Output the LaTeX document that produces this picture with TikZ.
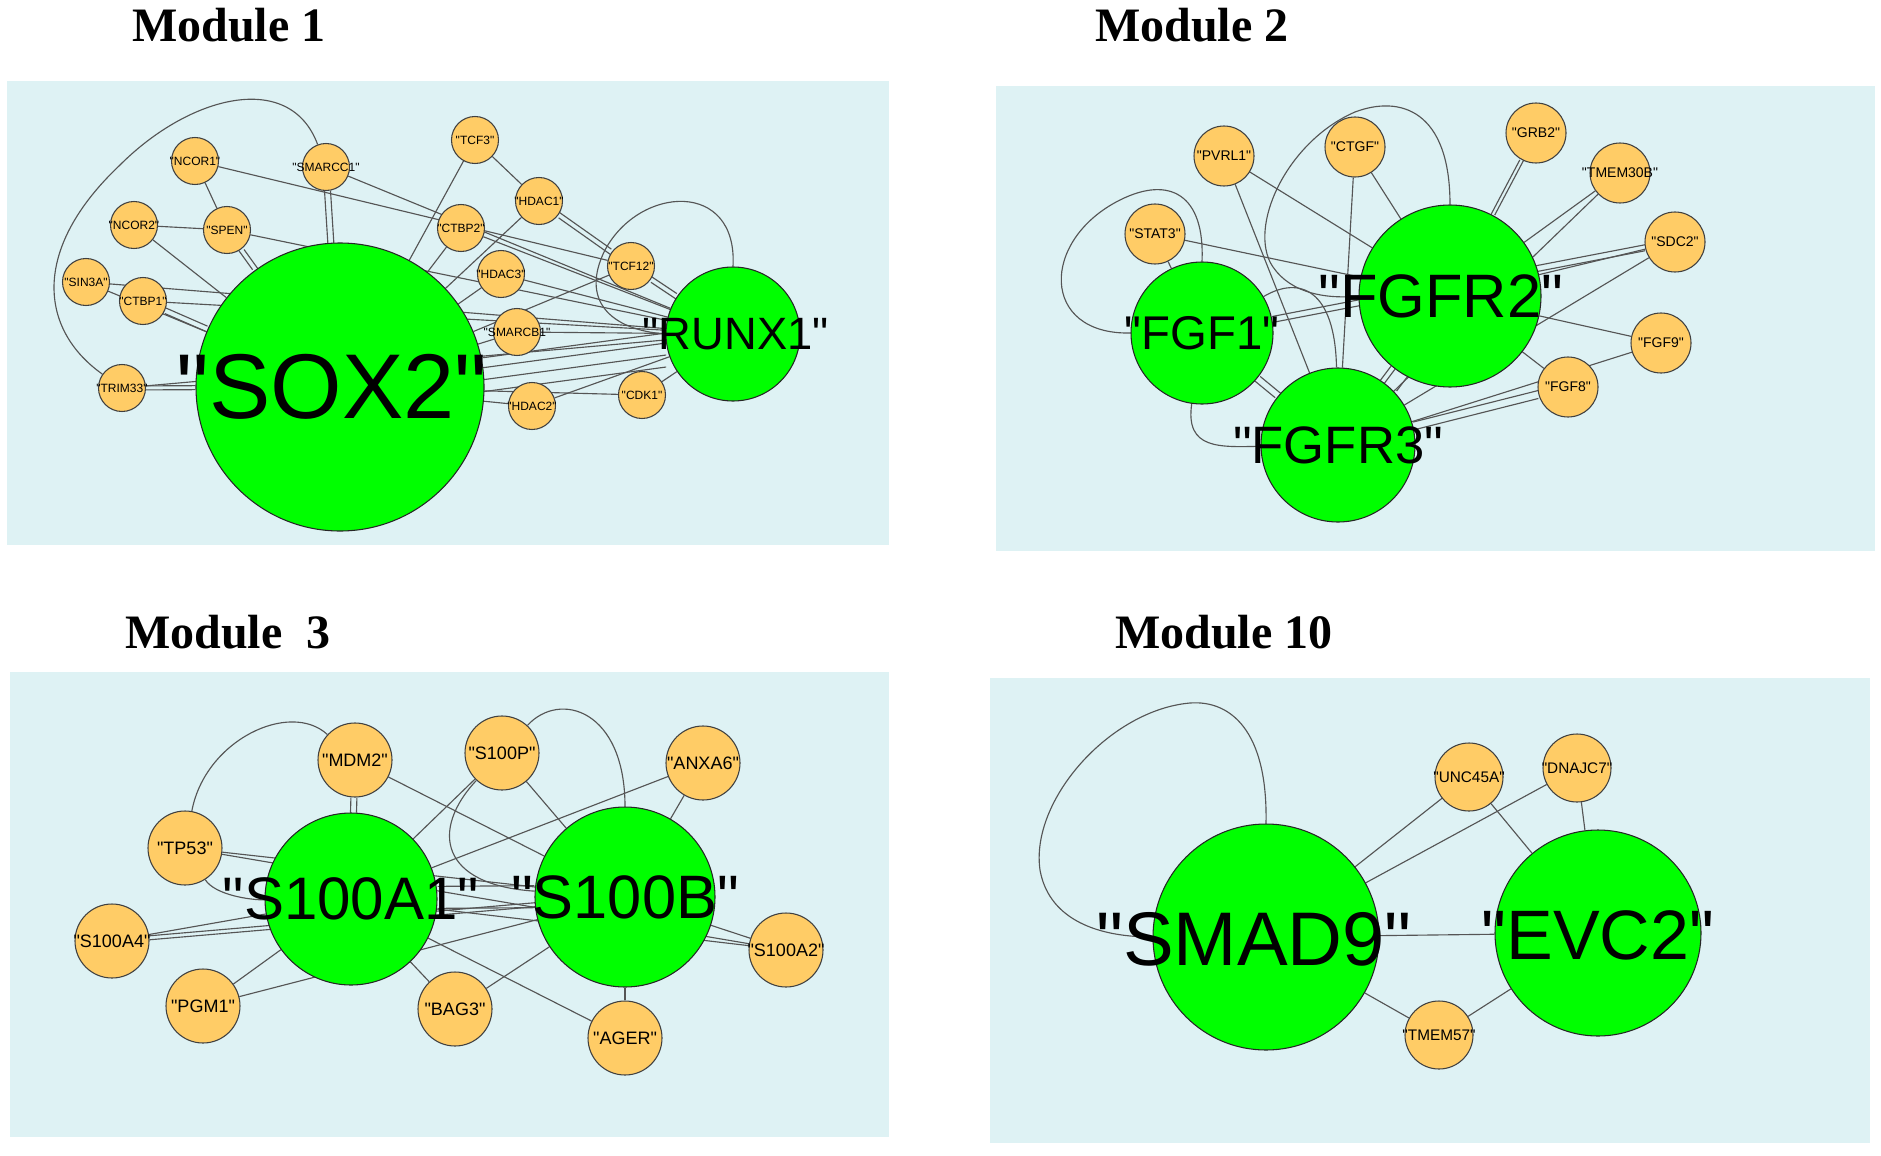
\documentclass[tikz,border=0pt]{standalone}
\usepackage{fontspec}
\setmainfont{Liberation Serif}
\newfontfamily\arialf{Liberation Sans}
\newcommand{\gfont}[1]{\arialf\fontsize{#1}{#1}\selectfont}
\definecolor{panelbg}{RGB}{222,242,244}
\definecolor{hubgreen}{RGB}{0,255,0}
\definecolor{geneorange}{RGB}{255,204,102}
\definecolor{edgegray}{RGB}{85,85,85}
\pgfdeclarelayer{bg}
\pgfdeclarelayer{edges}
\pgfsetlayers{bg,edges,main}
\tikzset{
  edge/.style={draw=edgegray, line width=0.85pt},
  sh/.style={transform canvas={shift={#1}}},
  hub/.style={circle, draw=black!85, fill=hubgreen, line width=0.8pt, inner sep=0pt, minimum size=#1},
  gene/.style={circle, draw=black!75, fill=geneorange, line width=0.8pt, inner sep=0pt, minimum size=#1},
  m1l/.style={font=\gfont{9}, inner sep=0pt},
  m2l/.style={font=\gfont{10.5}, inner sep=0pt},
  m3l/.style={font=\gfont{13.5}, inner sep=0pt},
  m4l/.style={font=\gfont{11.5}, inner sep=0pt},
  title/.style={anchor=base west, inner sep=0pt, font=\fontsize{36}{36}\selectfont\bfseries},
}
\begin{document}
\begin{tikzpicture}[x=0.75pt, y=-0.75pt]
\useasboundingbox (0,0) rectangle (1881,1156);
\begin{pgfonlayer}{bg}
\fill[white] (0,0) rectangle (1881,1156);
\fill[panelbg] (7,81) rectangle (889,545);
\fill[panelbg] (996,86) rectangle (1875,551);
\fill[panelbg] (10,672) rectangle (889,1137);
\fill[panelbg] (990,678) rectangle (1870,1143);
\end{pgfonlayer}

% titles
\node[title] (t1) at (132,42) {Module 1};
\node[title] (t2) at (1095,42) {Module 2};
\node[title] (t3) at (125,648) {Module\ \ 3};
\node[title] (t4) at (1115,648) {Module 10};

% ===== Module 1 =====
\node[hub=216pt, label={[inner sep=0pt, xshift=-6pt, font=\gfont{69}]center:"SOX2"}] (sox2) at (340,387) {};
\node[hub=100.5pt, label={[inner sep=0pt, xshift=2pt, font=\gfont{34}]center:"RUNX1"}] (runx1) at (733,334) {};
\node[gene=35.25pt, label={[m1l]center:"TCF3"}] (tcf3) at (475,140) {};
\node[gene=35.25pt, label={[m1l]center:"NCOR1"}] (ncor1) at (195,161) {};
\node[gene=35.25pt, label={[m1l]center:"SMARCC1"}] (smarcc1) at (326,167) {};
\node[gene=35.25pt, label={[m1l]center:"HDAC1"}] (hdac1) at (539,201) {};
\node[gene=35.25pt, label={[m1l]center:"NCOR2"}] (ncor2) at (134,225) {};
\node[gene=35.25pt, label={[m1l]center:"SPEN"}] (spen) at (227,230) {};
\node[gene=35.25pt, label={[m1l]center:"CTBP2"}] (ctbp2) at (461,228) {};
\node[gene=35.25pt, label={[m1l]center:"HDAC3"}] (hdac3) at (501,274) {};
\node[gene=35.25pt, label={[m1l]center:"TCF12"}] (tcf12) at (631,266) {};
\node[gene=35.25pt, label={[m1l]center:"SIN3A"}] (sin3a) at (86,282) {};
\node[gene=35.25pt, label={[m1l]center:"CTBP1"}] (ctbp1) at (143,301) {};
\node[gene=35.25pt, label={[m1l]center:"SMARCB1"}] (smarcb1) at (517,332) {};
\node[gene=35.25pt, label={[m1l]center:"TRIM33"}] (trim33) at (122,388) {};
\node[gene=35.25pt, label={[m1l]center:"HDAC2"}] (hdac2) at (532,406) {};
\node[gene=35.25pt, label={[m1l]center:"CDK1"}] (cdk1) at (642,395) {};

% ===== Module 2 =====
\node[hub=136.5pt, label={[inner sep=0pt, xshift=-7pt, font=\gfont{46}]center:"FGFR2"}] (fgfr2) at (1450,296) {};
\node[hub=106.5pt, label={[inner sep=0pt, font=\gfont{35.5}]center:"FGF1"}] (fgf1) at (1202,333) {};
\node[hub=115.5pt, label={[inner sep=0pt, font=\gfont{39.5}]center:"FGFR3"}] (fgfr3) at (1338,445) {};
\node[gene=45pt, label={[m2l]center:"STAT3"}] (stat3) at (1155,234) {};
\node[gene=45pt, label={[m2l]center:"PVRL1"}] (pvrl1) at (1224,156) {};
\node[gene=45pt, label={[m2l]center:"CTGF"}] (ctgf) at (1355,147) {};
\node[gene=45pt, label={[m2l]center:"GRB2"}] (grb2) at (1536,133) {};
\node[gene=45pt, label={[m2l]center:"TMEM30B"}] (tmem30b) at (1620,173) {};
\node[gene=45pt, label={[m2l]center:"SDC2"}] (sdc2) at (1675,242) {};
\node[gene=45pt, label={[m2l]center:"FGF9"}] (fgf9) at (1661,343) {};
\node[gene=45pt, label={[m2l]center:"FGF8"}] (fgf8) at (1568,387) {};

% ===== Module 3 =====
\node[hub=129pt, label={[inner sep=0pt, font=\gfont{45}]center:"S100A1"}] (s100a1) at (351,899) {};
\node[hub=135pt, label={[inner sep=0pt, font=\gfont{46}]center:"S100B"}] (s100b) at (625,897) {};
\node[gene=55.5pt, label={[m3l]center:"MDM2"}] (mdm2) at (355,760) {};
\node[gene=55.5pt, label={[m3l]center:"S100P"}] (s100p) at (502,753) {};
\node[gene=55.5pt, label={[m3l]center:"ANXA6"}] (anxa6) at (703,763) {};
\node[gene=55.5pt, label={[m3l]center:"TP53"}] (tp53) at (185,848) {};
\node[gene=55.5pt, label={[m3l]center:"S100A4"}] (s100a4) at (112,941) {};
\node[gene=55.5pt, label={[m3l]center:"PGM1"}] (pgm1) at (203,1006) {};
\node[gene=55.5pt, label={[m3l]center:"BAG3"}] (bag3) at (455,1009) {};
\node[gene=55.5pt, label={[m3l]center:"AGER"}] (ager) at (625,1038) {};
\node[gene=55.5pt, label={[m3l]center:"S100A2"}] (s100a2) at (786,950) {};

% ===== Module 10 =====
\node[hub=169.5pt, label={[inner sep=0pt, xshift=-9pt, yshift=-2pt, font=\gfont{57}]center:"SMAD9"}] (smad9) at (1266,937) {};
\node[hub=154.5pt, label={[inner sep=0pt, yshift=-2pt, font=\gfont{52.5}]center:"EVC2"}] (evc2) at (1598,933) {};
\node[gene=51pt, label={[m4l]center:"UNC45A"}] (unc45a) at (1469,777) {};
\node[gene=51pt, label={[m4l]center:"DNAJC7"}] (dnajc7) at (1577,768) {};
\node[gene=51pt, label={[m4l]center:"TMEM57"}] (tmem57) at (1439,1035) {};

\begin{pgfonlayer}{edges}
% Module 1
\draw[edge] (trim33) .. controls (40,330) and (30,250) .. (120,165) .. controls (190,95) and (290,70) .. (smarcc1);
\draw[edge] (runx1.north) .. controls (738,180) and (640,185) .. (605,250) .. controls (580,300) and (610,330) .. (runx1.west);
\draw[edge] (ncor1) -- (spen);
\draw[edge] (ncor1) -- (tcf12);
\draw[edge, sh={(-3,0)}] (smarcc1) -- (sox2);
\draw[edge, sh={(3,0)}] (smarcc1) -- (sox2);
\draw[edge] (smarcc1) -- (runx1);
\draw[edge] (ncor2) -- (spen);
\draw[edge] (ncor2) -- (sox2);
\draw[edge, sh={(-3,0)}] (spen) -- (sox2);
\draw[edge, sh={(3,0)}] (spen) -- (sox2);
\draw[edge] (spen) -- (runx1);
\draw[edge] (sin3a) -- (sox2);
\draw[edge] (sin3a) -- (runx1);
\draw[edge, sh={(0,-3)}] (ctbp1) -- (sox2);
\draw[edge, sh={(0,3)}] (ctbp1) -- (sox2);
\draw[edge] (ctbp1) -- (runx1);
\draw[edge, sh={(0,-2)}] (trim33) -- (sox2);
\draw[edge, sh={(0,2)}] (trim33) -- (sox2);
\draw[edge] (trim33) -- (runx1);
\draw[edge] (tcf3) -- (sox2);
\draw[edge] (tcf3) -- (hdac1);
\draw[edge, sh={(0,-3)}] (hdac1) -- (tcf12);
\draw[edge, sh={(0,3)}] (hdac1) -- (tcf12);
\draw[edge] (hdac1) -- (sox2);
\draw[edge, sh={(0,-3)}] (tcf12) -- (runx1);
\draw[edge, sh={(0,3)}] (tcf12) -- (runx1);
\draw[edge] (tcf12) -- (sox2);
\draw[edge] (ctbp2) -- (sox2);
\draw[edge] (ctbp2) -- (runx1);
\draw[edge] (hdac3) -- (sox2);
\draw[edge] (hdac3) -- (runx1);
\draw[edge] (smarcb1) -- (sox2);
\draw[edge] (smarcb1) -- (runx1);
\draw[edge, sh={(0,-10)}] (sox2) -- (runx1);
\draw[edge] (sox2) -- (runx1);
\draw[edge, sh={(0,12)}] (sox2) -- (runx1);
\draw[edge, sh={(0,24)}] (sox2) -- (runx1);
\draw[edge] (hdac2) -- (sox2);
\draw[edge] (hdac2) -- (runx1);
\draw[edge] (cdk1) -- (sox2);
\draw[edge] (cdk1) -- (runx1);
% Module 2
\draw[edge] (fgf1.west) .. controls (1040,335) and (1040,240) .. (1120,200) .. controls (1170,175) and (1205,195) .. (fgf1.north);
\draw[edge] (fgfr2.north) .. controls (1450,110) and (1400,95) .. (1355,112) .. controls (1290,140) and (1250,220) .. (1270,262) .. controls (1285,290) and (1320,300) .. (fgfr2.west);
\draw[edge] (fgf1) .. controls (1300,275) and (1335,290) .. (fgfr3);
\draw[edge] (fgf1) .. controls (1185,450) and (1220,447) .. (fgfr3);
\draw[edge] (stat3) -- (fgfr2);
\draw[edge] (stat3) -- (fgf1);
\draw[edge] (pvrl1) -- (fgfr2);
\draw[edge] (pvrl1) -- (fgfr3);
\draw[edge] (ctgf) -- (fgfr3);
\draw[edge] (ctgf) -- (fgfr2);
\draw[edge, sh={(-3,2)}] (fgf1) -- (fgfr3);
\draw[edge, sh={(3,-2)}] (fgf1) -- (fgfr3);
\draw[edge, sh={(0,-3)}] (sdc2) -- (fgf1);
\draw[edge, sh={(0,3)}] (sdc2) -- (fgf1);
\draw[edge] (sdc2) -- (fgfr2);
\draw[edge] (sdc2) -- (fgfr3);
\draw[edge, sh={(-2,0)}] (grb2) -- (fgfr2);
\draw[edge, sh={(2,0)}] (grb2) -- (fgfr2);
\draw[edge] (tmem30b) -- (fgfr2);
\draw[edge] (tmem30b) -- (fgfr3);
\draw[edge] (fgf9) -- (fgfr2);
\draw[edge] (fgf9) -- (fgfr3);
\draw[edge] (fgf8) -- (fgfr2);
\draw[edge, sh={(0,-4)}] (fgf8) -- (fgfr3);
\draw[edge, sh={(0,4)}] (fgf8) -- (fgfr3);
\draw[edge, sh={(-4,-3)}] (fgfr2) -- (fgfr3);
\draw[edge] (fgfr2) -- (fgfr3);
\draw[edge, sh={(12,8)}] (fgfr2) -- (fgfr3);
% Module 3
\draw[edge] (tp53) .. controls (205,740) and (290,700) .. (mdm2);
\draw[edge] (s100p) .. controls (560,690) and (625,710) .. (s100b);
\draw[edge] (s100p) .. controls (430,830) and (440,885) .. (s100b);
\draw[edge] (tp53) .. controls (215,895) and (250,900) .. (s100a1);
\draw[edge, sh={(-3,0)}] (mdm2) -- (s100a1);
\draw[edge, sh={(3,0)}] (mdm2) -- (s100a1);
\draw[edge] (mdm2) -- (s100b);
\draw[edge] (s100p) -- (s100a1);
\draw[edge] (s100p) -- (s100b);
\draw[edge] (anxa6) -- (s100a1);
\draw[edge] (anxa6) -- (s100b);
\draw[edge] (tp53) -- (s100b);
\draw[edge] (tp53) -- (s100a2);
\draw[edge] (s100a4) -- (s100a1);
\draw[edge, sh={(0,-2)}] (s100a4) -- (s100b);
\draw[edge, sh={(0,2)}] (s100a4) -- (s100b);
\draw[edge] (pgm1) -- (s100a1);
\draw[edge] (pgm1) -- (s100b);
\draw[edge] (bag3) -- (s100a1);
\draw[edge] (bag3) -- (s100b);
\draw[edge] (ager) -- (s100a1);
\draw[edge] (ager) -- (s100b);
\draw[edge] (s100a2) -- (s100b);
\draw[edge] (s100a2) -- (s100a1);
\draw[edge, sh={(0,-12)}] (s100a1) -- (s100b);
\draw[edge, sh={(0,10)}] (s100a1) -- (s100b);
% Module 10
\draw[edge] (smad9.north) .. controls (1268,730) and (1230,700) .. (1190,703) .. controls (1110,710) and (1030,800) .. (1040,870) .. controls (1048,915) and (1090,937) .. (smad9.west);
\draw[edge] (unc45a) -- (smad9);
\draw[edge] (dnajc7) -- (smad9);
\draw[edge] (unc45a) -- (evc2);
\draw[edge] (dnajc7) -- (evc2);
\draw[edge] (smad9) -- (evc2);
\draw[edge] (tmem57) -- (smad9);
\draw[edge] (tmem57) -- (evc2);
\end{pgfonlayer}
\end{tikzpicture}
\end{document}
